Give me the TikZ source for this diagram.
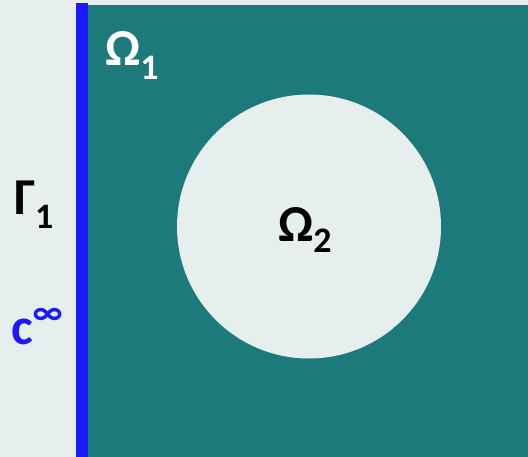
\documentclass[tikz,border=0pt]{standalone}
\usepackage{fontspec}
\setmainfont{Carlito}
\definecolor{bgpale}{HTML}{E7EEEE}
\definecolor{tealfill}{HTML}{1C7B7A}
\definecolor{edgeblue}{HTML}{1A1AFF}
\newcommand{\bigf}{\fontsize{52}{52}\selectfont\bfseries}
\newcommand{\subf}{\fontsize{36}{36}\selectfont\bfseries}
\begin{document}
\begin{tikzpicture}[x=1bp,y=-1bp,
  lab/.style={inner sep=0pt, outer sep=0pt, anchor=base west}]
\fill[bgpale] (0,0) rectangle (528,457);
\useasboundingbox (0,0) rectangle (528,457);
\fill[tealfill] (87.5,5) rectangle (528,457);
\fill[edgeblue] (75.5,3) rectangle (87.5,457);
\fill[bgpale] (309,226.5) circle[radius=132];
\node[lab, text=white] (om1) at (105,66) {\bigf Ω\raisebox{-14bp}{\subf 1}};
\node[lab, text=black] (gam1) at (14,215) {\bigf Γ\raisebox{-14bp}{\subf 1}};
\node[lab, text=edgeblue] (cinf) at (11,344) {\bigf c\raisebox{20bp}{\subf ∞}};
\node[lab, text=black] (om2) at (278,242) {\bigf Ω\raisebox{-11bp}{\subf 2}};
\end{tikzpicture}
\end{document}
